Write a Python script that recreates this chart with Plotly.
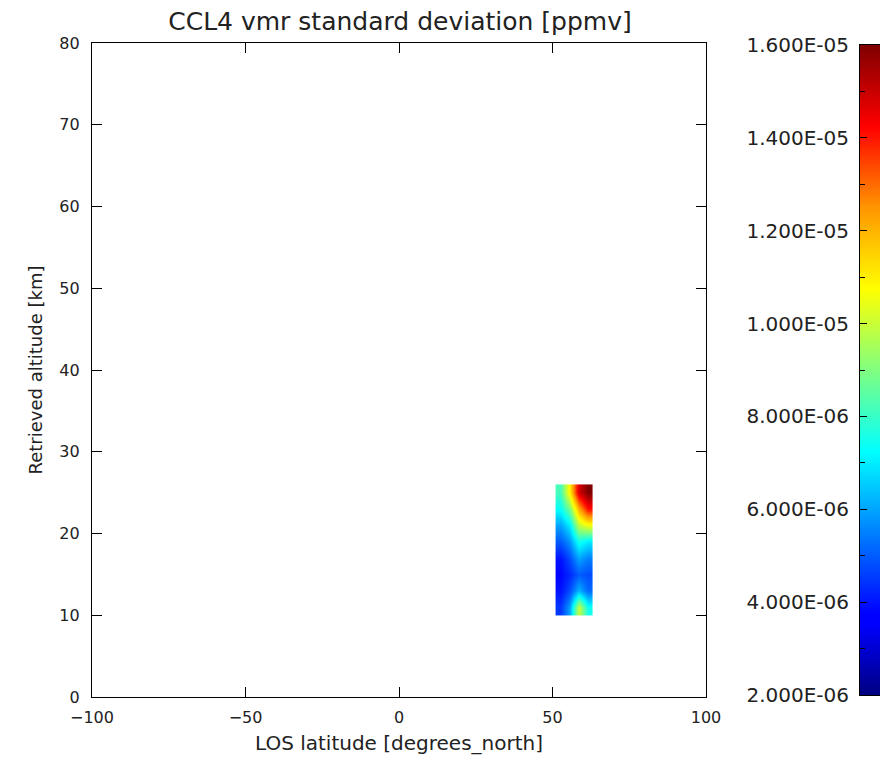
import numpy as np
import plotly.graph_objects as go

# ---- data ----
lat_centers = [52.5, 55.5, 58.5, 61.5]          # degrees_north
alt_centers = [11, 13, 15, 17, 19, 21, 23, 25]  # km
# CCl4 vmr standard deviation [ppmv], rows = altitude, cols = latitude
std_1e6 = [
    [4.5, 6.0, 10.0, 7.5],
    [4.0, 4.8, 6.2, 5.2],
    [3.8, 4.3, 5.0, 4.8],
    [4.0, 4.8, 6.0, 5.5],
    [5.0, 5.8, 7.5, 7.0],
    [6.0, 7.0, 9.8, 10.5],
    [7.3, 8.8, 12.0, 14.0],
    [8.2, 11.0, 14.8, 16.0],
]
z_values = [[v * 1e-6 for v in row] for row in std_1e6]

x_ticks = [-100, -50, 0, 50, 100]
y_ticks = [0, 10, 20, 30, 40, 50, 60, 70, 80]
cb_tickvals = [2e-6, 4e-6, 6e-6, 8e-6, 1e-5, 1.2e-5, 1.4e-5, 1.6e-5]
cb_ticktext = ["2.000E-06", "4.000E-06", "6.000E-06", "8.000E-06",
               "1.000E-05", "1.200E-05", "1.400E-05", "1.600E-05"]
cb_minor = [3e-6, 5e-6, 7e-6, 9e-6, 1.1e-5, 1.3e-5, 1.5e-5]
zmin, zmax = 2e-6, 1.6e-5

jet = [
    [0.0, "rgb(0,0,128)"],
    [0.11, "rgb(0,0,255)"],
    [0.125, "rgb(0,0,255)"],
    [0.36, "rgb(0,240,255)"],
    [0.375, "rgb(0,255,255)"],
    [0.5, "rgb(128,255,128)"],
    [0.625, "rgb(255,255,0)"],
    [0.75, "rgb(255,150,0)"],
    [0.875, "rgb(255,0,0)"],
    [1.0, "rgb(128,0,0)"],
]

# colour bar gradient levels
cb_levels = np.linspace(zmin, zmax, 281)

font_fam = "DejaVu Sans, Liberation Sans, sans-serif"
txt_col = "#222222"

fig = go.Figure()
fig.add_trace(go.Heatmap(
    x=lat_centers, y=alt_centers, z=z_values,
    colorscale=jet, zmin=zmin, zmax=zmax, zsmooth="best",
    showscale=False, xaxis="x", yaxis="y",
))
fig.add_trace(go.Heatmap(
    x=[0], y=cb_levels, z=[[v] for v in cb_levels],
    colorscale=jet, zmin=zmin, zmax=zmax, zsmooth="best",
    showscale=False, xaxis="x2", yaxis="y2", hoverinfo="skip",
))

W, H = 880, 767
ml, mr, mt = 92, 0, 43
plot_bottom = 697
mb = H - plot_bottom
pw = W - ml - mr
ph = H - mt - mb
main_right = (706 - ml) / pw
cb_left = (860 - ml) / pw

axis_common = dict(
    showline=True, linecolor="black", linewidth=1.2, mirror="allticks",
    ticks="inside", ticklen=10, tickcolor="black", tickwidth=1.2,
    showgrid=False, zeroline=False, automargin=False,
    tickfont=dict(family=font_fam, size=16, color=txt_col),
)

fig.update_layout(
    width=W, height=H,
    margin=dict(l=ml, r=mr, t=mt, b=mb, pad=0, autoexpand=False),
    paper_bgcolor="white", plot_bgcolor="white",
    showlegend=False,
    title=dict(text="CCL4 vmr standard deviation [ppmv]", automargin=False,
               x=400 / W, xanchor="center", y=1 - 21 / H,
               yanchor="middle",
               font=dict(family=font_fam, size=25, color=txt_col)),
    xaxis=dict(domain=[0, main_right], range=[-100, 100],
               tickvals=x_ticks, ticktext=["\u2212100", "\u221250", "0", "50", "100"],
               ticklabelstandoff=6,
               title=dict(text="LOS latitude [degrees_north]", standoff=9,
                          font=dict(family=font_fam, size=20, color=txt_col)),
               **axis_common),
    yaxis=dict(domain=[0, 1], range=[0, 80], tickvals=y_ticks,
               ticklabelstandoff=8,
               title=dict(text="Retrieved altitude [km]", standoff=12,
                          font=dict(family=font_fam, size=18, color=txt_col)),
               **axis_common),
    xaxis2=dict(domain=[cb_left, 1], range=[-0.5, 0.5], anchor="y2",
                showticklabels=False, ticks="", showline=True, mirror=True,
                linecolor="black", linewidth=1, showgrid=False, zeroline=False,
                automargin=False),
    yaxis2=dict(domain=[(plot_bottom - 695) / ph, (plot_bottom - 45) / ph],
                range=[zmin, zmax],
                anchor="x2", side="left", automargin=False,
                tickvals=cb_tickvals, ticktext=cb_ticktext,
                ticks="inside", ticklen=7, tickcolor="black", tickwidth=1,
                ticklabelstandoff=6,
                minor=dict(tickvals=cb_minor, ticks="inside", ticklen=5,
                           tickcolor="black"),
                showline=True, linecolor="black", mirror=True,
                showgrid=False, zeroline=False,
                tickfont=dict(family=font_fam, size=20, color=txt_col)),
)

fig.write_html(
    "out.html",
    config={"displayModeBar": False},
    post_script="document.body.style.margin='0';document.body.style.overflow='hidden';",
)
